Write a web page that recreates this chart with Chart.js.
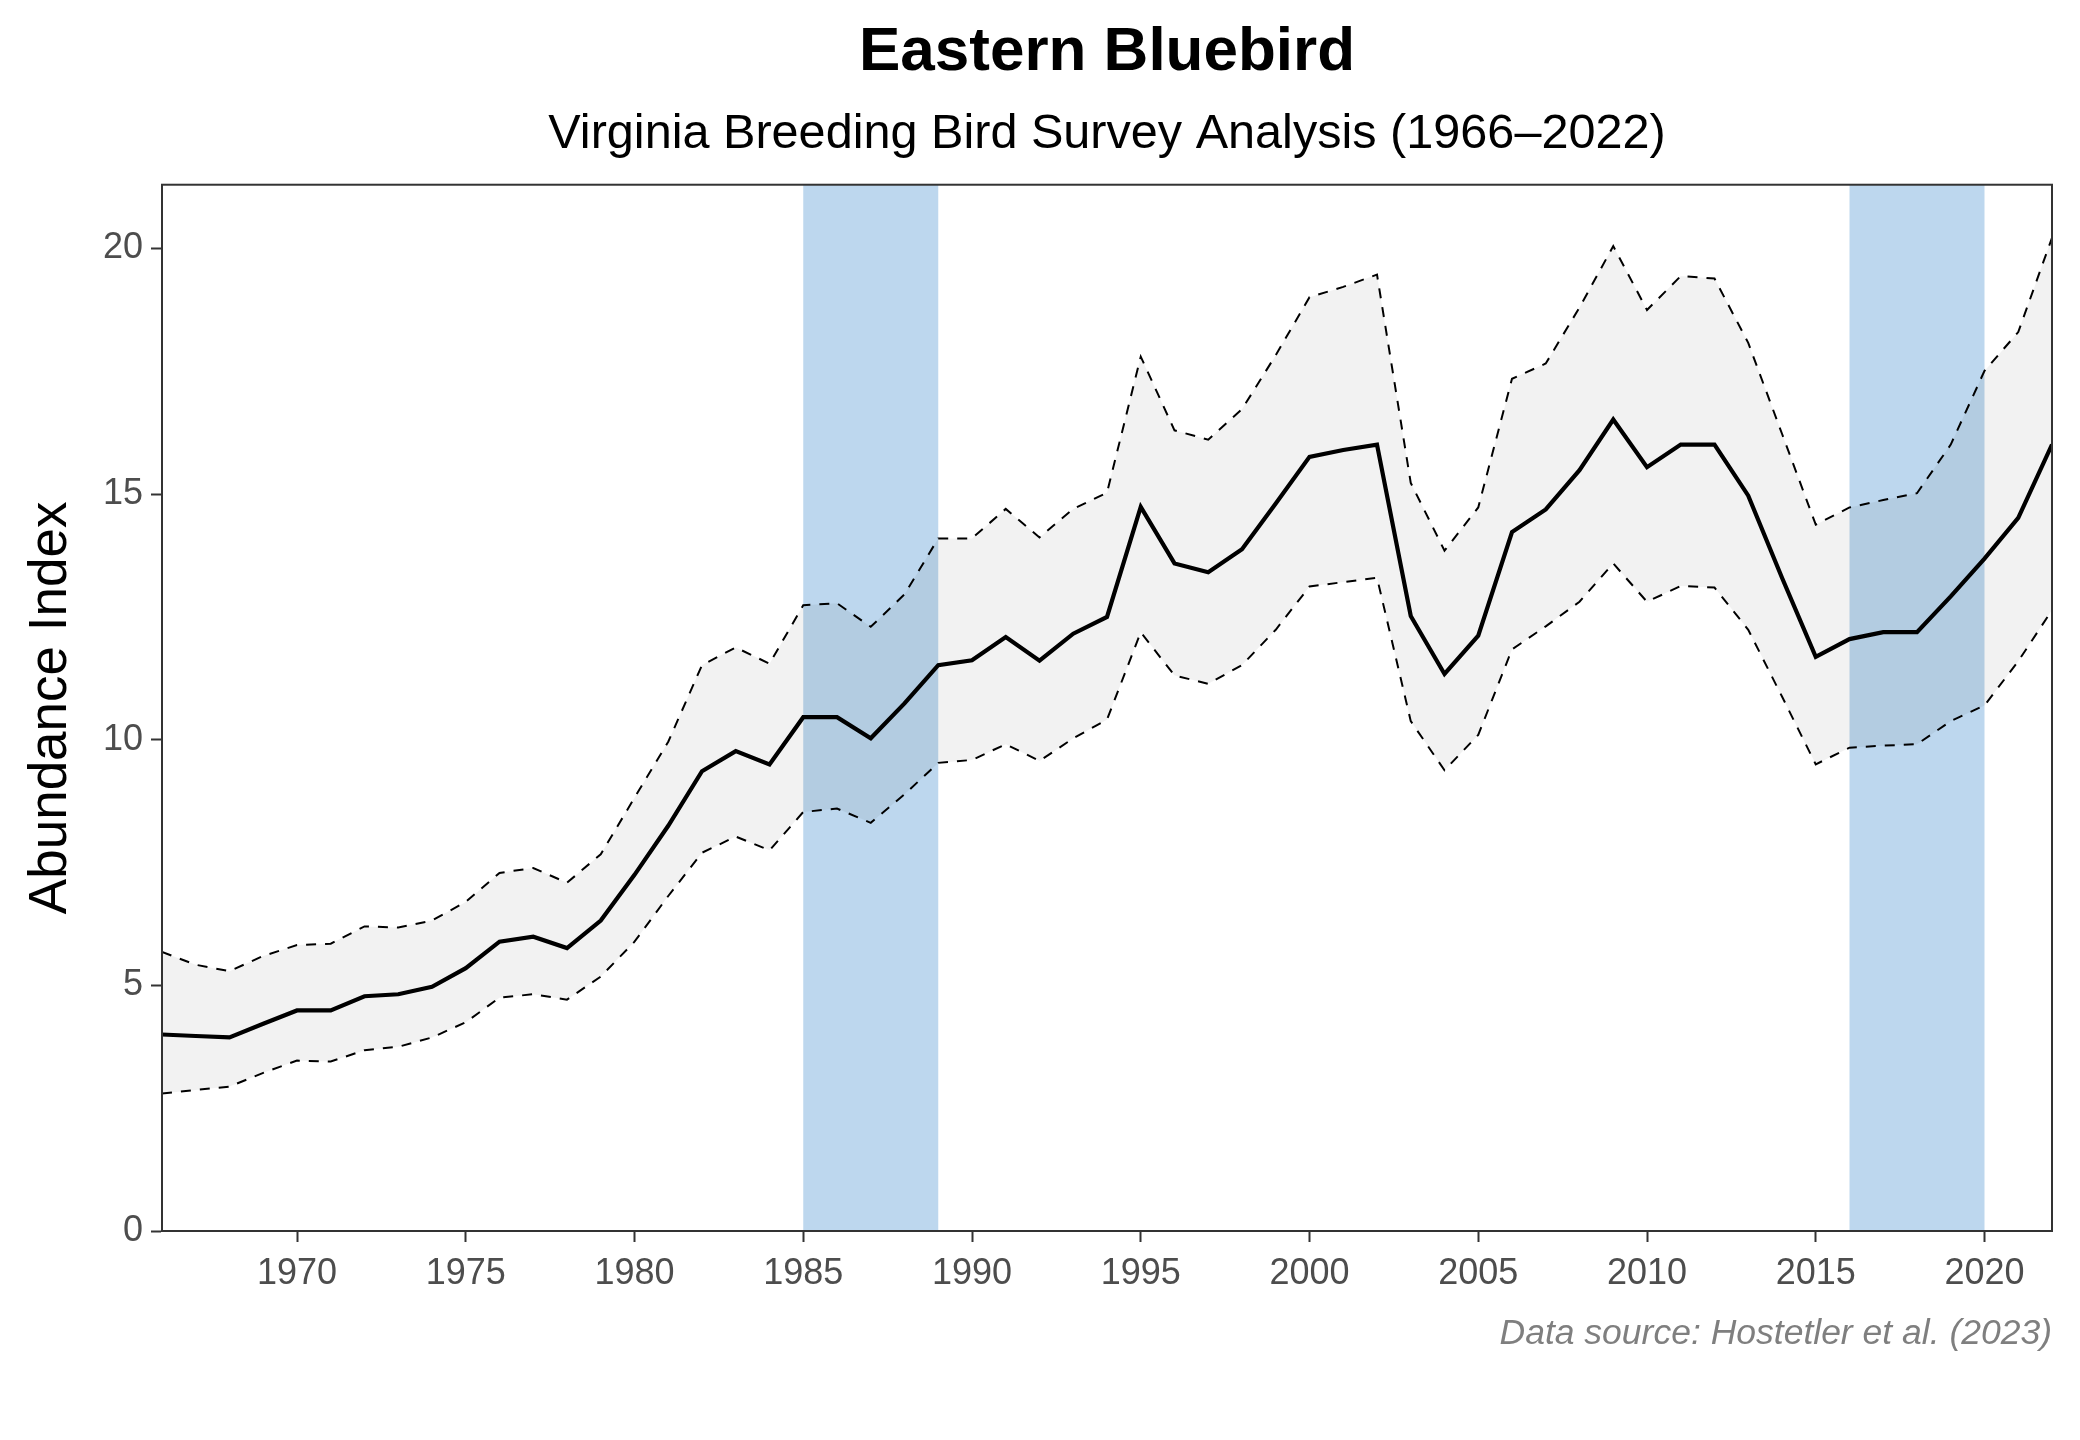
<!DOCTYPE html>
<html>
<head>
<meta charset="utf-8">
<script src="https://cdn.jsdelivr.net/npm/chart.js@4/dist/chart.umd.min.js"></script>
<style>
  html, body { margin: 0; padding: 0; background: #ffffff; }
  #wrap { width: 2080px; height: 1440px; }
</style>
</head>
<body>
<div id="wrap"><canvas id="chart" width="2080" height="1440"></canvas></div>
<script>
// survey years
var years = [1966,1967,1968,1969,1970,1971,1972,1973,1974,1975,1976,1977,1978,1979,1980,
             1981,1982,1983,1984,1985,1986,1987,1988,1989,1990,1991,1992,1993,1994,1995,
             1996,1997,1998,1999,2000,2001,2002,2003,2004,2005,2006,2007,2008,2009,2010,
             2011,2012,2013,2014,2015,2016,2017,2018,2019,2020,2021,2022];

// abundance index (median)
var abundance = [4.0,3.97,3.94,4.22,4.49,4.49,4.78,4.82,4.97,5.35,5.89,5.99,5.76,6.32,7.25,
                 8.25,9.36,9.77,9.5,10.46,10.46,10.03,10.74,11.52,11.62,12.09,11.61,12.16,12.5,14.74,
                 13.59,13.41,13.88,14.81,15.76,15.9,16.01,12.52,11.34,12.12,14.23,14.69,15.49,16.52,15.55,
                 16.01,16.01,14.97,13.3,11.69,12.05,12.19,12.19,12.92,13.69,14.52,16.01];

// upper credible limit
var upper = [5.68,5.42,5.29,5.6,5.82,5.85,6.2,6.18,6.32,6.7,7.29,7.39,7.09,7.67,8.82,
             9.96,11.52,11.88,11.55,12.74,12.78,12.3,12.96,14.1,14.1,14.7,14.12,14.7,15.03,17.8,
             16.3,16.11,16.73,17.83,19.01,19.22,19.47,15.23,13.85,14.73,17.35,17.66,18.8,20.05,18.75,
             19.44,19.39,18.08,16.23,14.38,14.73,14.88,15.02,16.01,17.51,18.3,20.22];

// lower credible limit
var lower = [2.8,2.87,2.94,3.22,3.47,3.45,3.68,3.75,3.94,4.25,4.75,4.82,4.71,5.18,5.89,
             6.82,7.7,8.03,7.75,8.53,8.6,8.31,8.89,9.53,9.59,9.91,9.57,10.03,10.41,12.19,
             11.31,11.14,11.52,12.24,13.12,13.21,13.3,10.38,9.38,10.1,11.84,12.31,12.81,13.59,12.81,
             13.13,13.1,12.24,10.88,9.5,9.84,9.88,9.91,10.38,10.7,11.6,12.64];

// shaded atlas periods
var bandStart = [1985, 2016];
var bandEnd = [1989, 2020];

var xTicks = [1970,1975,1980,1985,1990,1995,2000,2005,2010,2015,2020];
var yTicks = [0,5,10,15,20];

var chartTitle = 'Eastern Bluebird';
var chartSubtitle = 'Virginia Breeding Bird Survey Analysis (1966\u20132022)';
var yTitle = 'Abundance Index';
var caption = 'Data source: Hostetler et al. (2023)';

function toPoints(vals){
    return years.map(function(yr, i){ return {x: yr, y: vals[i]}; });
}

Chart.defaults.font.family = '"Liberation Sans", Arial, sans-serif';

//shaded bands go under the ribbon
var bandPlugin = {
    id: 'bands',
    beforeDatasetsDraw: function(chart){
        var ctx = chart.ctx, area = chart.chartArea, xs = chart.scales.x;
        ctx.save();
        ctx.fillStyle = '#bdd7ee';
        for(var i = 0; i < bandStart.length; i++){
            var x1 = xs.getPixelForValue(bandStart[i]);
            var x2 = xs.getPixelForValue(bandEnd[i]);
            ctx.fillRect(x1, area.top, x2 - x1, area.bottom - area.top);
        }
        ctx.restore();
    }
};

//panel border and caption
var framePlugin = {
    id: 'frame',
    afterDatasetsDraw: function(chart){
        var ctx = chart.ctx, a = chart.chartArea;
        ctx.save();
        ctx.strokeStyle = '#333333';
        ctx.lineWidth = 2;
        ctx.strokeRect(a.left, a.top, a.right - a.left, a.bottom - a.top);
        ctx.restore();
    },
    afterDraw: function(chart){
        var ctx = chart.ctx, a = chart.chartArea;
        ctx.save();
        ctx.font = 'italic 35.5px "Liberation Sans", Arial, sans-serif';
        ctx.fillStyle = '#7f7f7f';
        ctx.textAlign = 'right';
        ctx.textBaseline = 'middle';
        ctx.fillText(caption, a.right, 1334);
        ctx.restore();
    }
};

var ctx = document.getElementById('chart');
var chart = new Chart(ctx, {
    type: 'line',
    data: {
        datasets: [
            {
                label: 'Abundance',
                data: toPoints(abundance),
                borderColor: '#000000',
                borderWidth: 4.2,
                pointRadius: 0,
                fill: false,
                tension: 0
            },
            {
                label: 'Upper',
                data: toPoints(upper),
                borderColor: '#000000',
                borderWidth: 2,
                borderDash: [10, 9],
                pointRadius: 0,
                backgroundColor: 'rgba(0,0,0,0.05)',
                fill: 2,
                tension: 0
            },
            {
                label: 'Lower',
                data: toPoints(lower),
                borderColor: '#000000',
                borderWidth: 2,
                borderDash: [10, 9],
                pointRadius: 0,
                fill: false,
                tension: 0
            }
        ]
    },
    options: {
        responsive: false,
        devicePixelRatio: 1,
        animation: false,
        layout: { padding: { left: 0, right: 28, top: 0, bottom: 0 } },
        plugins: {
            legend: { display: false },
            tooltip: { enabled: false },
            title: {
                display: true,
                fullSize: false,
                text: chartTitle,
                color: '#000000',
                font: { size: 62, weight: 'bold' },
                padding: { top: 16, bottom: 15 }
            },
            subtitle: {
                display: true,
                fullSize: false,
                text: chartSubtitle,
                color: '#000000',
                font: { size: 48.6 },
                padding: { top: 0, bottom: 21 }
            }
        },
        scales: {
            x: {
                type: 'linear',
                min: 1966,
                max: 2022,
                afterBuildTicks: function(scale){ scale.ticks = xTicks.map(function(v){ return {value: v}; }); },
                afterFit: function(scale){ scale.height = 209; },
                grid: { display: true, drawOnChartArea: false, drawTicks: true, tickLength: 11, tickColor: '#333333', tickWidth: 2 },
                border: { display: true, color: '#333333', width: 2 },
                ticks: {
                    color: '#4d4d4d',
                    font: { size: 36 },
                    padding: 10,
                    maxRotation: 0,
                    callback: function(v){ return String(v); }
                }
            },
            y: {
                type: 'linear',
                min: 0,
                max: 21.3,
                afterBuildTicks: function(scale){ scale.ticks = yTicks.map(function(v){ return {value: v}; }); },
                afterFit: function(scale){ scale.width = 162; },
                grid: { display: true, drawOnChartArea: false, drawTicks: true, tickLength: 11, tickColor: '#333333', tickWidth: 2 },
                border: { display: true, color: '#333333', width: 2 },
                ticks: {
                    color: '#4d4d4d',
                    font: { size: 36 },
                    padding: 8,
                    callback: function(v){ return String(v); }
                },
                title: {
                    display: true,
                    text: yTitle,
                    color: '#000000',
                    font: { size: 53 },
                    padding: { top: 20, bottom: 0 }
                }
            }
        }
    },
    plugins: [bandPlugin, framePlugin]
});
</script>
</body>
</html>
